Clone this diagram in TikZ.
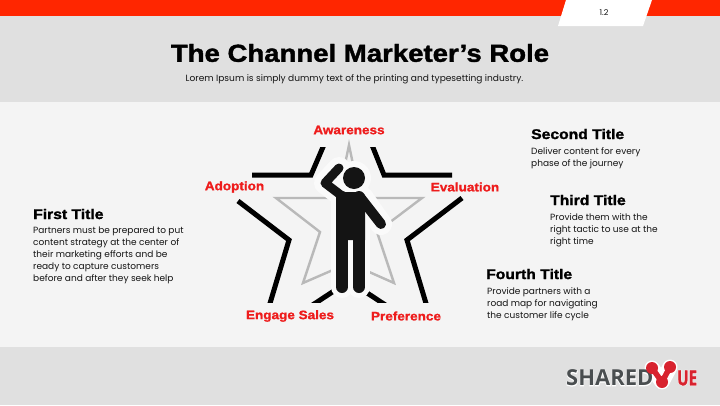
\documentclass[tikz,border=0pt]{standalone}
\usepackage{fontspec}
\setmainfont{Poppins}
\newfontfamily\headfont{Liberation Sans Bold}[FakeBold=1.6,FakeStretch=1.12]
\newfontfamily\labelfont{Liberation Sans Bold}[FakeBold=1.2,FakeStretch=1.1]
\newfontfamily\logofont{Open Sans Bold}
\newfontfamily\logohalo{Open Sans Bold}[FakeBold=5]
\newfontfamily\logoue{Open Sans Bold}[FakeBold=1,FakeStretch=0.72]
\newfontfamily\logouehalo{Open Sans Bold}[FakeBold=5,FakeStretch=0.72]
\definecolor{redbar}{HTML}{FF2600}
\definecolor{greyband}{HTML}{E0E0E0}
\definecolor{panel}{HTML}{F4F4F4}
\definecolor{labelred}{HTML}{EE1C1C}
\definecolor{ink}{HTML}{141414}
\definecolor{halo}{HTML}{FAFAFA}
\definecolor{greystar}{HTML}{B9B9B9}
\definecolor{logored}{HTML}{D8232F}
\definecolor{logogrey}{HTML}{4A4E50}
\tikzset{
 x=1pt,y=-1pt,
 stagelabel/.style={font=\labelfont\fontsize{12.3}{14}\selectfont,text=labelred,inner sep=0pt},
 bighead/.style={font=\headfont\fontsize{14}{16}\selectfont,text=black,inner sep=0pt,anchor=west},
 bodytext/.style={font=\fontsize{9}{12}\selectfont,text=ink,inner sep=0pt,anchor=north west,align=left},
 blackstar/.style={draw=black,line width=5pt,miter limit=10},
 greyline/.style={draw=greystar,line width=2.4pt},
 logotext/.style={inner sep=0pt,anchor=west},
}
\begin{document}
\begin{tikzpicture}
\useasboundingbox (0,0) rectangle (720,405);
\fill[greyband] (0,0) rectangle (720,405);
\fill[redbar] (0,0) rectangle (720,16);
\fill[panel] (0,102) rectangle (720,347);
\fill[white] (566,0) -- (652,0) -- (643,26) -- (558,26) -- cycle;
\node[font=\fontsize{8}{9}\selectfont,text=ink,inner sep=0pt] (pageno) at (604,12.5) {1.2};
\node[font=\headfont\fontsize{24.6}{26}\selectfont,text=black,inner sep=0pt] (title) at (360,53) {The Channel Marketer’s Role};
\node[font=\fontsize{9.05}{11}\selectfont,text=ink,inner sep=0pt] (subtitle) at (354.5,79.5) {Lorem Ipsum is simply dummy text of the printing and typesetting industry.};
% grey star
\draw[greyline,line join=miter] (349,145) -- (360,198) -- (422,198) -- (377,232) -- (394,283) -- (349,263) -- (303,283) -- (320,232) -- (276,198) -- (338,198) -- cycle;
% black star pieces
\begin{scope}
\clip (200,147) rectangle (500,302);
\draw[blackstar] (326,140) -- (311,175) -- (252,175);
\draw[blackstar] (370,140) -- (384,175) -- (452,175);
\draw[blackstar] (238,201) -- (289,240) -- (268,310);
\draw[blackstar] (462,198) -- (407,240) -- (428,310);
\draw[blackstar] (305,310) -- (349,281) -- (393,310);
\end{scope}
% figure halo
\begin{scope}[halo,line cap=round,line join=round]
\fill (354,178) circle (17);
\draw[line width=22pt] (339,168) -- (325,183) -- (342,196);
\draw[line width=22pt] (362,197) -- (381,224);
\draw[line width=22pt] (342,197) -- (342,287);
\draw[line width=22pt] (359,197) -- (359,287);
\end{scope}
% figure
\begin{scope}[ink,line cap=round,line join=round]
\fill (354,178) circle (11);
\draw[line width=9pt] (339,168) -- (325,183) -- (342,196);
\draw[line width=10pt] (360,197) -- (381,224);
\draw[line width=12pt] (342,197) -- (342,287);
\draw[line width=12pt] (359,197) -- (359,287);
\fill (336,192) -- (360,192) -- (365,198) -- (365,240) -- (336,240) -- cycle;
\end{scope}
% stage labels
\node[stagelabel] (aw) at (349,130) {Awareness};
\node[stagelabel] (ad) at (234.5,187) {Adoption};
\node[stagelabel] (ev) at (465,187) {Evaluation};
\node[stagelabel] (es) at (290,316) {Engage Sales};
\node[stagelabel] (pr) at (406,316) {Preference};
% text blocks
\node[bighead] (t1) at (33,214) {First Title};
\node[bodytext] (b1) at (33,227) {Partners must be prepared to put\\content strategy at the center of\\their marketing efforts and be\\ready to capture customers\\before and after they seek help};
\node[bighead] (t2) at (531,134) {Second Title};
\node[bodytext] (b2) at (531,147) {Deliver content for every\\phase of the journey};
\node[bighead] (t3) at (550,200) {Third Title};
\node[bodytext] (b3) at (550,213) {Provide them with the\\right tactic to use at the\\right time};
\node[bighead] (t4) at (486,274) {Fourth Title};
\node[bodytext] (b4) at (487,287) {Provide partners with a\\road map for navigating\\the customer life cycle};
% logo
\node[font=\logohalo\fontsize{22}{24}\selectfont,text=white,logotext] (shb) at (566,378) {SHARED};
\node[font=\logouehalo\fontsize{21}{24}\selectfont,text=white,logotext] (ueb) at (677,378) {UE};
\begin{scope}[white,line cap=round,line join=round]
\draw[line width=15pt] (652,368) -- (662,382) -- (670,367);
\end{scope}
\node[font=\logofont\fontsize{22}{24}\selectfont,text=logogrey,logotext] (sh) at (566,378) {SHARED};
\node[font=\logoue\fontsize{21}{24}\selectfont,text=logored,logotext] (ue) at (677,378) {UE};
\begin{scope}[logored,line cap=round,line join=round]
\draw[line width=5.5pt] (652,368) -- (662,382) -- (670,367);
\fill (652,368) circle (6);
\fill (670,367) circle (6);
\fill (662,382) circle (6);
\end{scope}
\end{tikzpicture}
\end{document}
